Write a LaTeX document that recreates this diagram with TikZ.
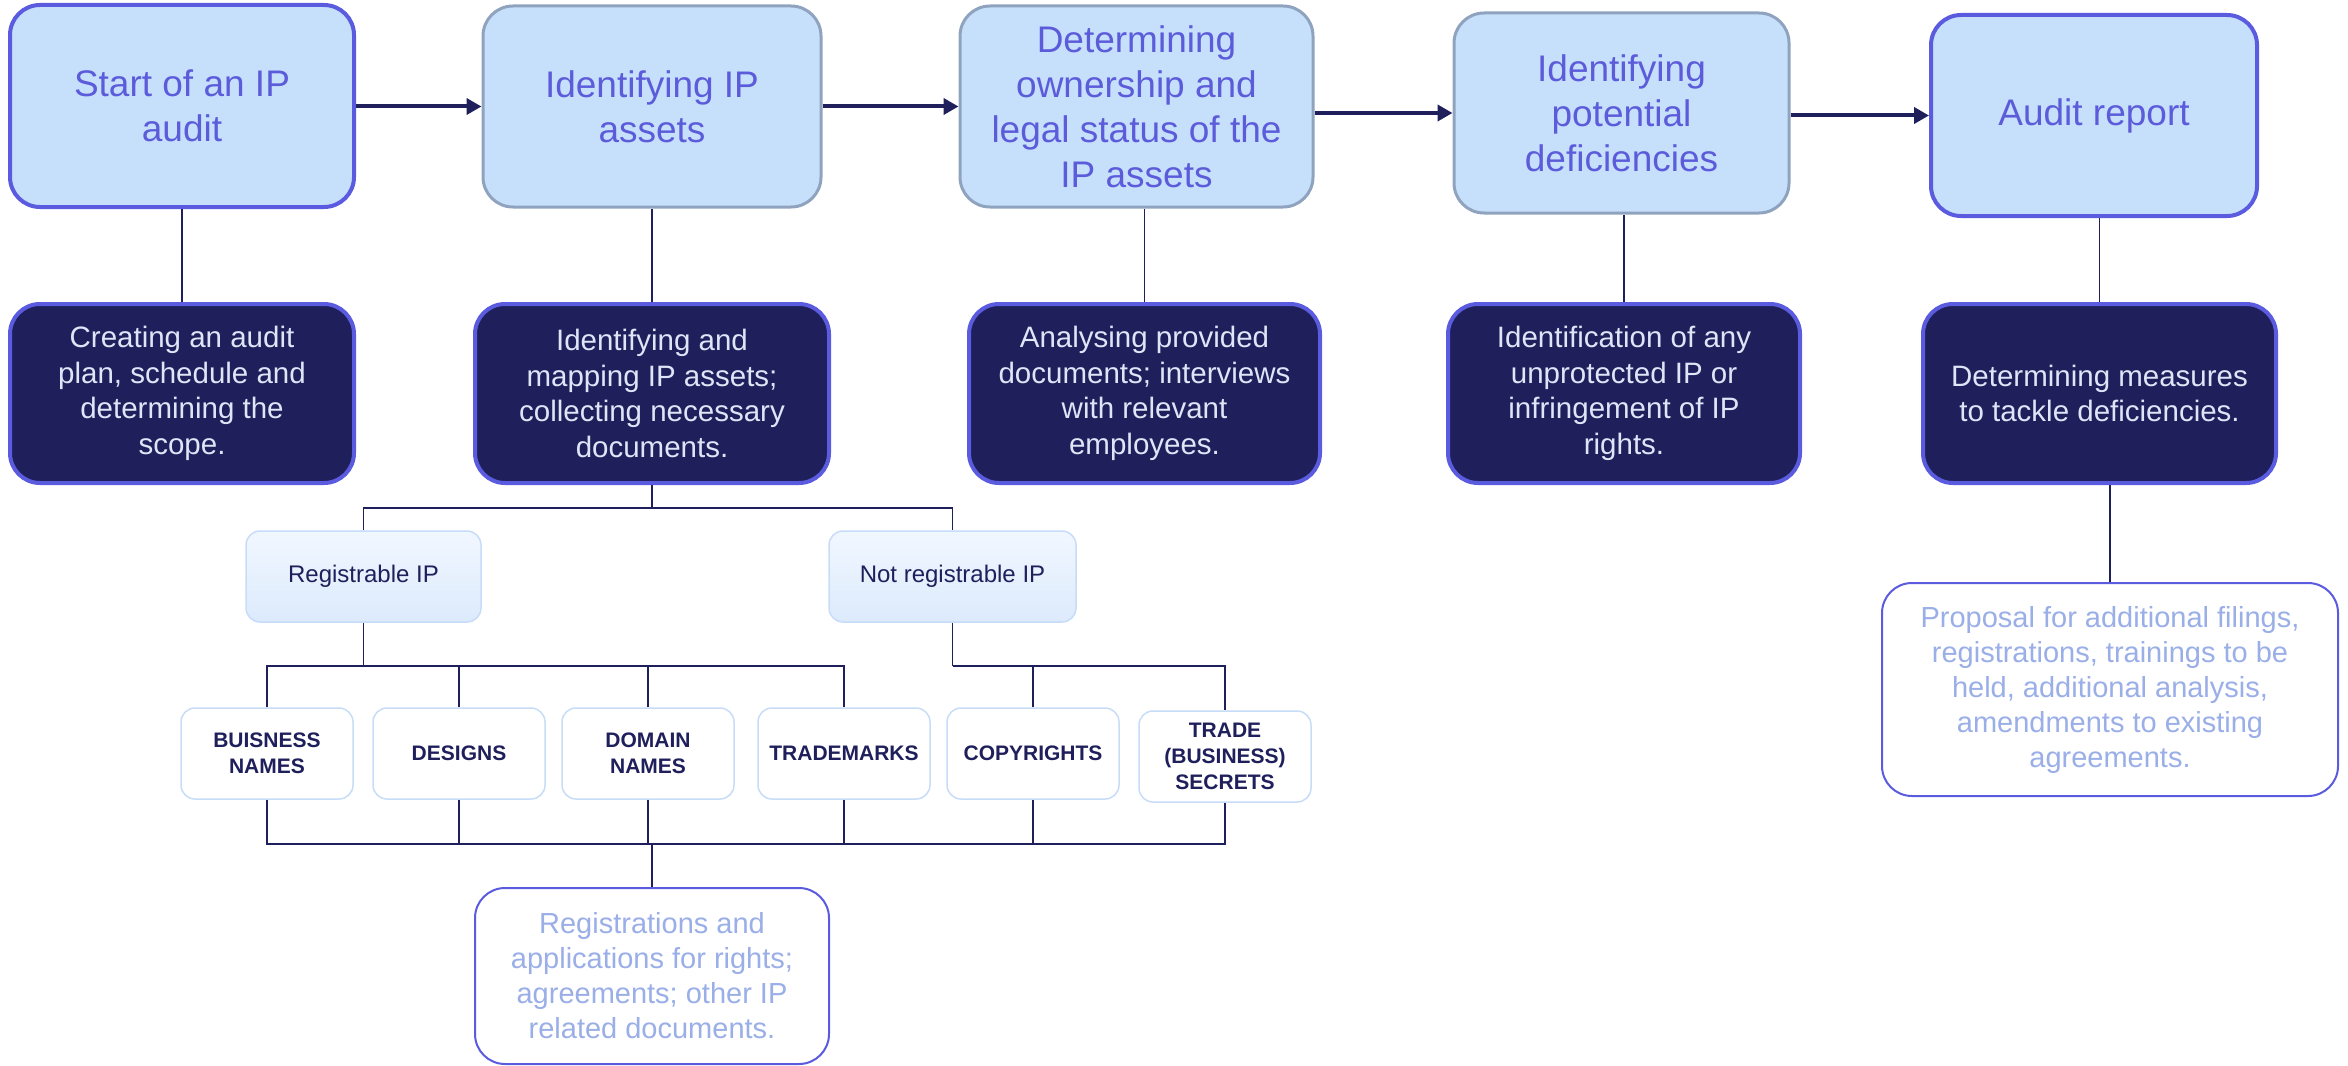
\documentclass[tikz,border=0pt]{standalone}
\usepackage{fontspec}
\setmainfont{Liberation Sans}
\usetikzlibrary{arrows.meta}
\definecolor{ipNavy}{RGB}{31,31,92}
\definecolor{ipBlue}{RGB}{91,91,224}
\definecolor{ipText}{RGB}{92,92,218}
\definecolor{ipFill}{RGB}{198,224,252}
\definecolor{ipGray}{RGB}{143,163,191}
\definecolor{ipLight}{RGB}{221,229,247}
\definecolor{ipEdge}{RGB}{199,220,248}
\definecolor{ipPale}{RGB}{241,247,255}
\definecolor{ipPaleB}{RGB}{220,234,252}
\definecolor{ipSoft}{RGB}{154,174,232}

\begin{document}
\begin{tikzpicture}[x=0.5pt, y=-0.5pt,
    stage/.style={draw=ipBlue, line width=2pt, fill=ipFill, rounded corners=15pt, text=ipText,
        align=center, inner sep=0pt, font=\fontsize{18.5}{22.5}\selectfont},
    grayStage/.style={stage, draw=ipGray, line width=1.5pt},
    task/.style={draw=ipBlue, line width=2pt, fill=ipNavy, rounded corners=15pt, text=ipLight,
        align=center, inner sep=0pt, minimum height=89.5pt, font=\fontsize{14.75}{17.75}\selectfont},
    group/.style={draw=ipEdge, line width=0.75pt, top color=ipPale, bottom color=ipPaleB,
        rounded corners=7pt, text=ipNavy, inner sep=0pt, minimum height=45.5pt, font=\fontsize{12}{14}\selectfont},
    leaf/.style={draw=ipEdge, line width=0.75pt, fill=white, rounded corners=7pt, text=ipNavy,
        align=center, inner sep=0pt, minimum width=86pt, minimum height=45.5pt,
        font=\bfseries\fontsize{10.5}{13}\selectfont},
    result/.style={draw=ipBlue, line width=1pt, fill=white, rounded corners=15pt, text=ipSoft,
        align=center, inner sep=0pt, font=\fontsize{14.5}{17.5}\selectfont},
    link/.style={draw=ipNavy, line width=0.75pt},
    flow/.style={draw=ipNavy, line width=2pt, -{Triangle[length=7.5pt, width=8pt]}}]
    \useasboundingbox (0,0) rectangle (2348,1065);

    \node [stage, minimum width=172pt, minimum height=101pt] (B1) at (182,106) {Start of an IP\\audit};
    \node [grayStage, minimum width=169pt, minimum height=100.5pt] (B2) at (652,106.5) {Identifying IP\\assets};
    \node [grayStage, minimum width=176.5pt, minimum height=100.5pt] (B3) at (1136.5,106.5) {Determining\\ownership and\\legal status of the\\IP assets};
    \node [grayStage, minimum width=167.5pt, minimum height=100pt] (B4) at (1621.5,113) {Identifying\\potential\\deficiencies};
    \node [stage, minimum width=163pt, minimum height=100.5pt] (B5) at (2094,115.5) {Audit report};

    \node [task, minimum width=172pt] (D1) at (182,393.5) {Creating an audit\\plan, schedule and\\determining the\\scope.};
    \node [task, minimum width=177pt] (D2) at (652,393.5) {Identifying and\\mapping IP assets;\\collecting necessary\\documents.};
    \node [task, minimum width=175.5pt] (D3) at (1144.5,393.5) {Analysing provided\\documents; interviews\\with relevant\\employees.};
    \node [task, minimum width=176pt] (D4) at (1624,393.5) {Identification of any\\unprotected IP or\\infringement of IP\\rights.};
    \node [task, minimum width=176.5pt] (D5) at (2099.5,393.5) {Determining measures\\to tackle deficiencies.};

    \foreach \a/\b in {B1/B2, B2/B3, B3/B4, B4/B5}
        \draw [flow] (\b.west -| \a.east) -- (\b.west);
    \foreach \n in {1,...,5}
        \draw [link] (D\n.north) -- (D\n.north |- B\n.south);

    \node [group, minimum width=117.5pt] (R1) at (363.5,576.5) {Registrable IP};
    \node [group, minimum width=123.5pt] (R2) at (952.5,576.5) {Not registrable IP};

    \node [leaf] (L1) at (267,753.5) {BUISNESS\\NAMES};
    \node [leaf] (L2) at (459,753.5) {DESIGNS};
    \node [leaf] (L3) at (648,753.5) {DOMAIN\\NAMES};
    \node [leaf] (L4) at (844,753.5) {TRADEMARKS};
    \node [leaf] (L5) at (1033,753.5) {COPYRIGHTS};
    \node [leaf] (L6) at (1225,756.5) {TRADE\\(BUSINESS)\\SECRETS};

    \node [result, minimum width=177pt, minimum height=88pt] (X1) at (652,976) {Registrations and\\applications for rights;\\agreements; other IP\\related documents.};
    \node [result, minimum width=228pt, minimum height=106.5pt] (X2) at (2110,689.5) {Proposal for additional filings,\\registrations, trainings to be\\held, additional analysis,\\amendments to existing\\agreements.};

    \draw [link] (D2.south) -- ++(0,23) coordinate (split);
    \draw [link] (R1.north) |- (split) -| (R2.north);

    \draw [link] (R1.south) -- ++(0,43) coordinate (regJoin);
    \draw [link] (L1.north) |- (regJoin) -| (L4.north);
    \foreach \n in {2,3}
        \draw [link] (L\n.north) -- (L\n.north |- regJoin);
    \draw [link] (R2.south) -- ++(0,43) coordinate (notJoin);
    \draw [link] (notJoin) -| (L6.north);
    \draw [link] (L5.north) -- (L5.north |- notJoin);

    \path (L3.south) ++(0,44) coordinate (docJoin);
    \draw [link] (L1.south) |- (docJoin) -| (L6.south);
    \foreach \n in {2,...,5}
        \draw [link] (L\n.south) -- (L\n.south |- docJoin);
    \draw [link] (X1.north) -- (X1.north |- docJoin);

    \draw [link] (X2.north) -- (X2.north |- D5.south);
\end{tikzpicture}
\end{document}
